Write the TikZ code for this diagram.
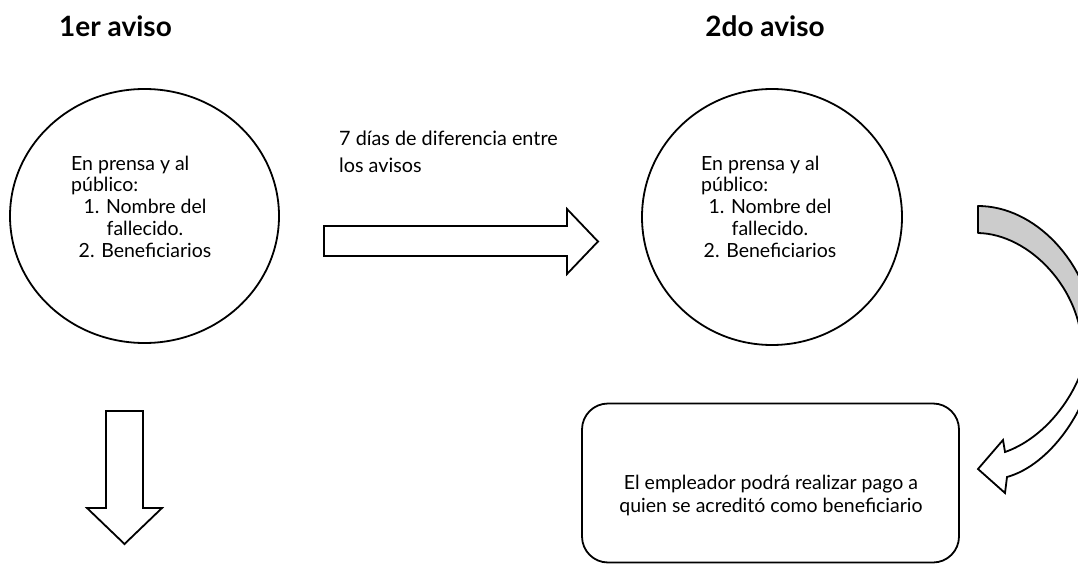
\documentclass[tikz,border=0pt]{standalone}
\usepackage{fontspec}
\setmainfont{Lato}
\usetikzlibrary{shapes.geometric}
\begin{document}
\begin{tikzpicture}[x=1pt,y=-1pt,
  outl/.style={draw=black, line width=1.8pt},
  body/.style={font=\fontsize{19.5}{21.7}\selectfont, inner sep=0pt},
  bodywide/.style={font=\fontsize{19.8}{26}\selectfont, inner sep=0pt},
  boxtext/.style={font=\fontsize{19.5}{23}\selectfont, inner sep=0pt},
  ttl/.style={font=\fontsize{28}{32}\selectfont\bfseries, inner sep=0pt},
  bubble/.style={outl, ellipse, inner sep=0pt, fill=white},
  blockarrow/.style={outl, fill=white, line join=miter},
  backband/.style={outl, fill=gray!40, line join=round}]
\useasboundingbox (0,0) rectangle (1078,564);
\fill[white] (0,0) rectangle (1078,564);

% titles
\node[ttl, anchor=base] (t1) at (115.5,37) {1er aviso};
\node[ttl, anchor=base] (t2) at (765,37) {2do aviso};

% circles
\node[bubble, minimum width=269, minimum height=254] (c1) at (144.5,216) {};
\node[bubble, minimum width=260, minimum height=256] (c2) at (772,217) {};

% circle texts (base anchor = baseline of the last line)
\node[body, anchor=base west, align=left] (h1) at (71,192) {En prensa y al\\público:};
\node[body, anchor=base, align=center] (l1) at (145,257) {1. Nombre del\\fallecido.\\2. Beneficiarios};
\node[body, anchor=base west, align=left] (h2) at (701,192) {En prensa y al\\público:};
\node[body, anchor=base, align=center] (l2) at (770,257) {1. Nombre del\\fallecido.\\2. Beneficiarios};

% horizontal arrow and its label
\node[bodywide, anchor=base west, align=left] (lab) at (339,172) {7 días de diferencia entre\\los avisos};
\draw[blockarrow] (324,226) -- (567,226) -- (567,209) -- (598,241.5) -- (567,274) -- (567,256) -- (324,256) -- cycle;

% down arrow
\draw[blockarrow] (106,411) -- (143,411) -- (143,508) -- (162,508) -- (124.5,544) -- (87,508) -- (106,508) -- cycle;

% rounded box
\node[outl, rounded corners=26, minimum width=377, minimum height=159, inner sep=0pt] (box) at (770.5,483) {};
\node[boxtext, align=center] (boxt) at (771,495) {El empleador podrá realizar pago a\\quien se acreditó como beneficiario};

% curved arrow: back band
\draw[backband] (978,206) .. controls (1035,206) and (1088,262) .. (1095,330) -- (1082,350)
  .. controls (1082,290) and (1030,234) .. (978,233) -- cycle;
% curved arrow: front band with head
\draw[blockarrow] (1005,452) -- (1003,440) -- (978,469) -- (1005,493) -- (1007,477)
  .. controls (1050,465) and (1088,410) .. (1095,360) -- (1090,340)
  .. controls (1080,400) and (1040,440) .. (1005,452) -- cycle;
\end{tikzpicture}
\end{document}
